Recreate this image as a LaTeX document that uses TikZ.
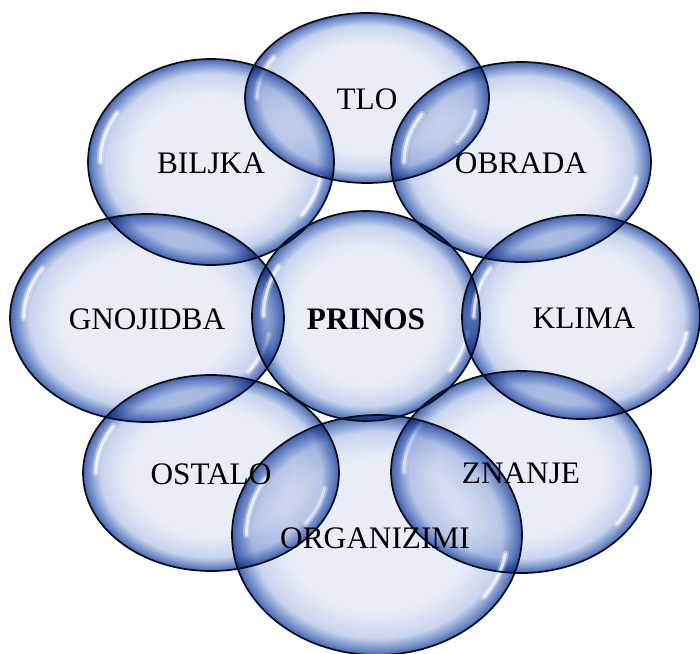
\documentclass[tikz,border=0pt]{standalone}
\usepackage{fontspec}
\setmainfont{Liberation Serif}
\usetikzlibrary{shapes.geometric,calc}

\definecolor{bubin}{RGB}{233,237,248}
\definecolor{bubmid}{RGB}{200,212,238}
\definecolor{bubout}{RGB}{100,130,195}
\definecolor{bubedge}{RGB}{70,100,170}
\definecolor{rimcol}{RGB}{8,12,24}
\pgfdeclareradialshading{glass}{\pgfpointorigin}{color(0bp)=(bubin); color(16bp)=(bubin); color(21.5bp)=(bubmid); color(24.2bp)=(bubout); color(25bp)=(bubedge); color(50bp)=(bubedge)}

\begin{document}
\begin{tikzpicture}[
  x=1pt, y=1pt,
  font=\fontsize{31.3}{36}\selectfont,
  gloss/.style={white, line cap=round, blend mode=normal},
  bubble/.style={ellipse, shade, shading=glass, blend mode=multiply, inner sep=0pt, outer sep=0pt,
    path picture={
      \foreach \w/\o in {7pt/0.3, 3pt/0.75}
      \draw[gloss, line width=\w, opacity=\o] let \p1=($(path picture bounding box.north east)-(path picture bounding box.center)$) in
        ($(path picture bounding box.center)+(148:0.9*\x1 and 0.9*\y1)$) arc[start angle=148, end angle=180, x radius=0.9*\x1, y radius=0.9*\y1]
        ($(path picture bounding box.center)+(-10:0.9*\x1 and 0.9*\y1)$) arc[start angle=-10, end angle=-35, x radius=0.9*\x1, y radius=0.9*\y1];
    }},
  rim/.style={draw=rimcol, line width=1.7pt},
  lbl/.style={text height=22pt, text depth=0pt, inner sep=0pt}]
  \useasboundingbox (0,0) rectangle (700,-653);
  % bubbles
  \node[bubble, minimum width=244pt, minimum height=170pt] (tlo) at (367,-98) {};
  \node[bubble, minimum width=246pt, minimum height=206pt] (biljka) at (211,-162) {};
  \node[bubble, minimum width=260pt, minimum height=200pt] (obrada) at (521,-162) {};
  \node[bubble, minimum width=274pt, minimum height=208pt] (gnojidba) at (147,-318) {};
  \node[bubble, minimum width=228pt, minimum height=210pt] (prinos) at (366,-316) {};
  \node[bubble, minimum width=238pt, minimum height=204pt] (klima) at (581,-317) {};
  \node[bubble, minimum width=256pt, minimum height=196pt] (ostalo) at (211,-473) {};
  \node[bubble, minimum width=260pt, minimum height=202pt] (znanje) at (521,-472) {};
  \node[bubble, minimum width=290pt, minimum height=240pt] (organizimi) at (377,-535) {};
  % outlines over all fills
  \foreach \b in {tlo,biljka,obrada,gnojidba,prinos,klima,ostalo,znanje,organizimi}
    \draw[rim] let \p1=($(\b.east)-(\b.center)$), \p2=($(\b.north)-(\b.center)$) in
      (\b.center) ellipse[x radius=\x1, y radius=\y2];
  % labels
  \node[lbl] (tlotxt) at (tlo) {TLO};
  \node[lbl] (biljkatxt) at (biljka) {BILJKA};
  \node[lbl] (obradatxt) at (obrada) {OBRADA};
  \node[lbl] (gnojidbatxt) at (gnojidba) {GNOJIDBA};
  \node[lbl] (prinostxt) at ([yshift=-2pt]prinos) {\textbf{PRINOS}};
  \node[lbl] (klimatxt) at ([xshift=3pt]klima) {KLIMA};
  \node[lbl] (ostalotxt) at (ostalo) {OSTALO};
  \node[lbl] (znanjetxt) at (znanje) {ZNANJE};
  \node[lbl] (organizimitxt) at ([xshift=-2pt,yshift=-2pt]organizimi) {ORGANIZIMI};
\end{tikzpicture}
\end{document}
